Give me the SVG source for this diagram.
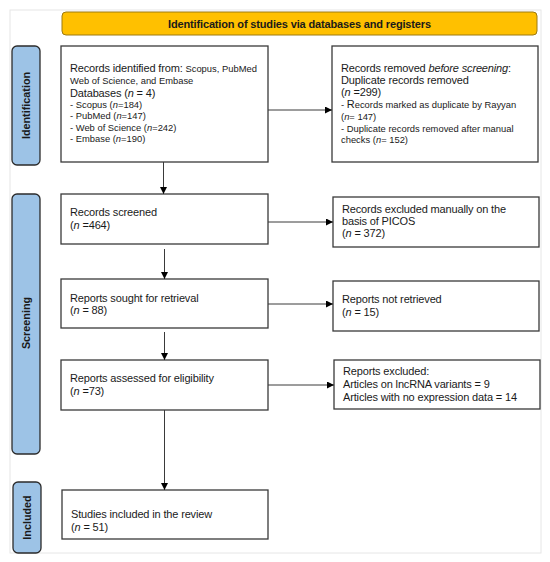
<svg xmlns="http://www.w3.org/2000/svg" width="550" height="562" viewBox="0 0 550 562">
<style>
text{font-family:"Liberation Sans",Arial,sans-serif;fill:#1a1a1a;}
.box{fill:#fff;stroke:#3a3a3a;stroke-width:1.3;}
.side{fill:#9DC3E6;stroke:#2b2b2b;stroke-width:1.3;}
.sl{font-size:10.8px;font-weight:bold;text-anchor:middle;}
.t{font-size:11px;letter-spacing:-0.15px;}
.s{font-size:9.4px;}
.con line{stroke:#3a3a3a;stroke-width:1;}
</style>
<defs>
<marker id="ah" viewBox="0 0 10 10" refX="10" refY="5" markerWidth="7" markerHeight="7" markerUnits="userSpaceOnUse" orient="auto">
<path d="M0,0 L10,5 L0,10 z" fill="#000"/>
</marker>
</defs>
<rect x="10" y="10" width="531" height="543" fill="none" stroke="#e6e6e6" stroke-width="1"/>
<g id="header">
<rect x="62" y="12" width="475" height="23" rx="4" fill="#FFC000" stroke="#9c7a12" stroke-width="1"/>
<text x="299.5" y="27.5" font-size="11" font-weight="bold" text-anchor="middle" letter-spacing="-0.15">Identification of studies via databases and registers</text>
</g>
<g id="label-identification">
<rect class="side" x="12" y="46" width="28" height="119" rx="5"/>
<text class="sl" transform="translate(29.8,105.5) rotate(-90)">Identification</text>
</g>
<g id="label-screening">
<rect class="side" x="12" y="194" width="28" height="260" rx="5"/>
<text class="sl" transform="translate(29.8,323) rotate(-90)">Screening</text>
</g>
<g id="label-included">
<rect class="side" x="13" y="482" width="28" height="71" rx="5"/>
<text class="sl" transform="translate(30.8,517.5) rotate(-90)">Included</text>
</g>
<g id="n1">
<rect class="box" x="61" y="46" width="207" height="116"/>
<text x="70" y="72"><tspan class="t">Records identified from: </tspan><tspan class="s">Scopus, PubMed</tspan></text>
<text x="70" y="84" class="s" font-size="9.8">Web of Science, and Embase</text>
<text x="70" y="96.5" class="t">Databases (<tspan font-style="italic">n</tspan> = 4)</text>
<text x="70" y="107.5" class="s">- Scopus (<tspan font-style="italic">n</tspan>=184)</text>
<text x="70" y="119" class="s">- PubMed  (<tspan font-style="italic">n</tspan>=147)</text>
<text x="70" y="130.5" class="s">- Web of Science (<tspan font-style="italic">n</tspan>=242)</text>
<text x="70" y="142" class="s">- Embase  (<tspan font-style="italic">n</tspan>=190)</text>
</g>
<g id="n2">
<rect class="box" x="332" y="46" width="206" height="116"/>
<text x="341" y="72" class="t">Records removed <tspan font-style="italic">before screening</tspan>:</text>
<text x="341" y="84" class="t">Duplicate records removed</text>
<text x="341" y="96" class="t">(<tspan font-style="italic">n</tspan> =299)</text>
<text x="341" y="108" class="s">- <tspan font-size="11px">R</tspan>ecords marked as duplicate by Rayyan</text>
<text x="341" y="120" class="s">(<tspan font-style="italic">n</tspan>= 147)</text>
<text x="341" y="131.5" class="s">- Duplicate records removed after manual</text>
<text x="341" y="143" class="s">checks (<tspan font-style="italic">n</tspan>= 152)</text>
</g>
<g id="n3">
<rect class="box" x="61" y="194" width="207" height="50"/>
<text x="70" y="216" class="t">Records screened</text>
<text x="70" y="228.5" class="t">(<tspan font-style="italic">n</tspan> =464)</text>
</g>
<g id="n4">
<rect class="box" x="333" y="197" width="206" height="50"/>
<text x="342" y="213" class="t">Records excluded manually on the</text>
<text x="342" y="225" class="t">basis of PICOS</text>
<text x="342" y="237" class="t"> (<tspan font-style="italic">n</tspan> = 372)</text>
</g>
<g id="n5">
<rect class="box" x="61" y="279" width="207" height="49"/>
<text x="70" y="301.5" class="t">Reports sought for retrieval</text>
<text x="70" y="314" class="t">(<tspan font-style="italic">n</tspan> = 88)</text>
</g>
<g id="n6">
<rect class="box" x="333" y="281" width="206" height="50"/>
<text x="342" y="303" class="t">Reports not retrieved</text>
<text x="342" y="316" class="t">(<tspan font-style="italic">n</tspan> = 15)</text>
</g>
<g id="n7">
<rect class="box" x="61" y="360" width="207" height="50"/>
<text x="70" y="382" class="t">Reports assessed for eligibility</text>
<text x="70" y="395" class="t">(<tspan font-style="italic">n</tspan> =73)</text>
</g>
<g id="n8">
<rect class="box" x="334" y="360" width="206" height="49"/>
<text x="343" y="375" class="t">Reports excluded:</text>
<text x="343" y="388" class="t">Articles on lncRNA variants = 9</text>
<text x="343" y="401" class="t">Articles with no expression data = 14</text>
</g>
<g id="n9">
<rect class="box" x="62" y="490" width="206" height="49"/>
<text x="71" y="518" class="t">Studies included in the review</text>
<text x="71" y="531" class="t">(<tspan font-style="italic">n</tspan> = 51)</text>
</g>
<g class="con" id="connectors">
<line x1="268" y1="110" x2="332" y2="110" marker-end="url(#ah)"/>
<line x1="163.5" y1="162" x2="163.5" y2="194" marker-end="url(#ah)"/>
<line x1="268" y1="222" x2="333" y2="222" marker-end="url(#ah)"/>
<line x1="164.5" y1="249" x2="164.5" y2="279" marker-end="url(#ah)"/>
<line x1="268" y1="304" x2="333" y2="304" marker-end="url(#ah)"/>
<line x1="164.5" y1="332" x2="164.5" y2="360" marker-end="url(#ah)"/>
<line x1="268" y1="385" x2="334" y2="385" marker-end="url(#ah)"/>
<line x1="164.5" y1="410" x2="164.5" y2="490" marker-end="url(#ah)"/>
</g>
</svg>
